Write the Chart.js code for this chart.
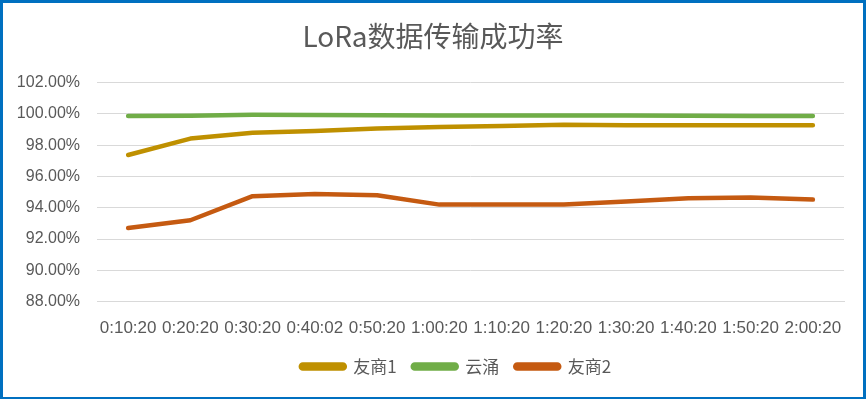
<!DOCTYPE html>
<html>
<head>
<meta charset="utf-8">
<script src="https://cdn.jsdelivr.net/npm/chart.js@4"></script>
<style>
  html, body { margin: 0; padding: 0; background: #fff; }
  #wrap { position: relative; width: 866px; height: 399px; }
  #frame { position: absolute; left: 0; top: 0; width: 866px; height: 399px; box-sizing: border-box;
           border: 3px solid #0070C0; border-bottom-width: 2px; pointer-events: none; }
</style>
</head>
<body>
<div id="wrap">
  <canvas id="chart" width="866" height="399"></canvas>
  <div id="frame"></div>
</div>
<script>
const times = ['0:10:20', '0:20:20', '0:30:20', '0:40:02', '0:50:20', '1:00:20',
               '1:10:20', '1:20:20', '1:30:20', '1:40:20', '1:50:20', '2:00:20'];
const youshang1 = [97.37, 98.42, 98.8, 98.9, 99.06, 99.16, 99.23, 99.3, 99.27, 99.27, 99.27, 99.27];
const yunyong = [99.86, 99.88, 99.94, 99.93, 99.91, 99.9, 99.9, 99.9, 99.89, 99.88, 99.87, 99.87];
const youshang2 = [92.7, 93.2, 94.74, 94.88, 94.8, 94.2, 94.2, 94.2, 94.4, 94.6, 94.65, 94.52];
const yTicks = [88, 90, 92, 94, 96, 98, 100, 102];

const textColor = '#595959';
const tickFont = { family: 'Liberation Sans, Arial, sans-serif', size: 16 };

function series(label, values, color) {
    return {
        label: label,
        data: values,
        borderColor: color,
        backgroundColor: color,
        borderWidth: 4.5,
        pointRadius: 0,
        tension: 0,
        borderCapStyle: 'round',
        borderJoinStyle: 'round'
    };
}

// title and legend are centred a little to the right in the original
const nudgeBoxes = {
    id: 'nudgeBoxes',
    afterLayout(chart) {
        chart.titleBlock.left += 22;
        chart.legend.left += 68;
        chart.legend.top -= 14;
        chart.legend.bottom -= 14;
    }
};

new Chart(document.getElementById('chart'), {
    type: 'line',
    data: {
        labels: times,
        datasets: [
            series('友商1', youshang1, '#BF9000'),
            series('云涌', yunyong, '#70AD47'),
            series('友商2', youshang2, '#C55A11')
        ]
    },
    plugins: [nudgeBoxes],
    options: {
        responsive: false,
        animation: false,
        layout: { padding: { left: 0, right: 22, top: 0, bottom: 0 } },
        plugins: {
            title: {
                display: true,
                text: 'LoRa数据传输成功率',
                color: textColor,
                font: { family: 'Noto Sans CJK SC, sans-serif', size: 28, weight: 'normal' },
                padding: { top: 20, bottom: 29 }
            },
            legend: {
                position: 'bottom',
                labels: {
                    color: textColor,
                    font: { family: 'Noto Sans CJK SC, sans-serif', size: 17 },
                    boxWidth: 44,
                    boxHeight: 4,
                    useBorderRadius: true,
                    borderRadius: 2,
                    padding: 16
                }
            },
            tooltip: { enabled: false }
        },
        scales: {
            x: {
                offset: true,
                grid: { display: false, drawTicks: false },
                border: { display: true, color: '#D9D9D9' },
                ticks: { color: textColor, font: { family: tickFont.family, size: 17 }, padding: 17,
                         maxRotation: 0, autoSkip: false }
            },
            y: {
                min: yTicks[0],
                max: yTicks[yTicks.length - 1],
                afterBuildTicks: axis => { axis.ticks = yTicks.map(v => ({ value: v })); },
                afterFit: axis => { axis.width = 97; },
                grid: { color: '#D9D9D9', drawTicks: false },
                border: { display: false },
                ticks: {
                    color: textColor,
                    font: tickFont,
                    padding: 17,
                    callback: v => v.toFixed(2) + '%'
                }
            }
        }
    }
});
</script>
</body>
</html>
